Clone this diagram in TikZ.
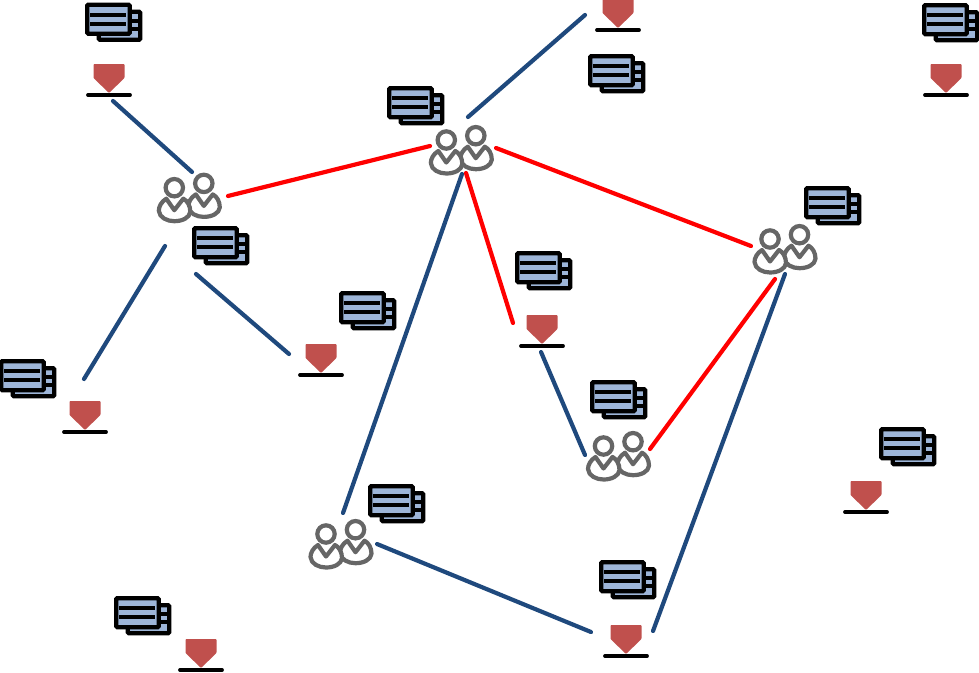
\documentclass[tikz,border=0pt]{standalone}
\definecolor{linkblue}{HTML}{1F497D}
\definecolor{linkred}{HTML}{FF0000}
\definecolor{tray}{HTML}{C0504D}
\definecolor{card}{HTML}{9DB5D8}
\definecolor{person}{HTML}{666666}
\tikzset{
  bluelink/.style={draw=linkblue,line width=4.2pt,line cap=round},
  redlink/.style={draw=linkred,line width=4.2pt,line cap=round},
  cards/.pic={
    \draw[line width=4.2pt,fill=card,rounded corners=1pt] (12.7,8.2) rectangle (54.2,36.2);
    \draw[line width=4pt] (45,17.2) -- (52,17.2) (45,25.2) -- (52,25.2);
    \draw[line width=4.2pt,fill=card,rounded corners=1pt] (1.2,1.2) rectangle (43.7,30.2);
    \draw[line width=4pt] (4,11.2) -- (40,11.2) (4,20.2) -- (40,20.2);
  },
  tray/.pic={
    \fill[tray,rounded corners=0.8pt] (-15.5,-31) -- (15.5,-31) -- (15.5,-17) -- (0,-2) -- (-15.5,-17) -- cycle;
    \draw[line width=3.8pt,line cap=round] (-21,0) -- (21,0);
  },
  oneperson/.pic={
    \draw[person,line width=4.2pt] (0,0) circle[radius=8.7];
    \draw[person,line width=4.2pt,line join=round,fill=white]
      (-8,11) .. controls (-13,14) and (-15.5,19) .. (-15.5,23)
      .. controls (-15,30) and (-7,33.5) .. (0,33.5)
      .. controls (8,33.5) and (15.5,30) .. (16,24)
      .. controls (16,18) and (13,13) .. (9,11)
      -- (0,22.5) -- cycle;
  },
  pair/.pic={
    \pic at (29.5,-4.3) {oneperson};
    \pic at (0,0) {oneperson};
  }
}
\begin{document}
\begin{tikzpicture}[x=1pt,y=-1pt]
\useasboundingbox (0,0) rectangle (979,672);
% cards
\foreach \p in {(86,3.5),(388,87),(193,227),(805,187),(516,252),(340,292),(0,360),(591,381),(880,428),(369,485),(600,561),(115,597),(589,55),(923,4)}
  \pic at \p {cards};
% trays
\coordinate (trayA) at (109,95);
\coordinate (trayB) at (321,375);
\coordinate (trayC) at (85,432);
\coordinate (trayD) at (542,346);
\coordinate (trayE) at (946,95);
\coordinate (trayF) at (618,30);
\coordinate (trayG) at (866,512);
\coordinate (trayH) at (626,656);
\coordinate (trayI) at (201,670);
\foreach \n in {A,B,C,D,E,F,G,H,I} \pic at (tray\n) {tray};
% person pairs
\coordinate (pairA) at (174.3,187.7);
\coordinate (pairB) at (446.3,140);
\coordinate (pairC) at (770,239);
\coordinate (pairD) at (603.5,446);
\coordinate (pairE) at (326,534);
\foreach \n in {A,B,C,D,E} \pic at (pair\n) {pair};
% connector ends
\coordinate (a1) at (113,101); \coordinate (a2) at (192,172);
\coordinate (b1) at (165,246); \coordinate (b2) at (84,379);
\coordinate (c1) at (196,274); \coordinate (c2) at (289,354);
\coordinate (d1) at (585,15);  \coordinate (d2) at (468,117);
\coordinate (e1) at (462,174); \coordinate (e2) at (343,513);
\coordinate (f1) at (541,352); \coordinate (f2) at (585,455);
\coordinate (g1) at (785,274); \coordinate (g2) at (653,631);
\coordinate (h1) at (377,544); \coordinate (h2) at (591,632);
\coordinate (i1) at (228,196); \coordinate (i2) at (430,146);
\coordinate (j1) at (496,148); \coordinate (j2) at (751,246);
\coordinate (k1) at (466,173); \coordinate (k2) at (513,323);
\coordinate (l1) at (775,279); \coordinate (l2) at (650,449);
\foreach \n in {a,b,c,d,e,f,g,h} \draw[bluelink] (\n1) -- (\n2);
\foreach \n in {i,j,k,l} \draw[redlink] (\n1) -- (\n2);
\end{tikzpicture}
\end{document}
